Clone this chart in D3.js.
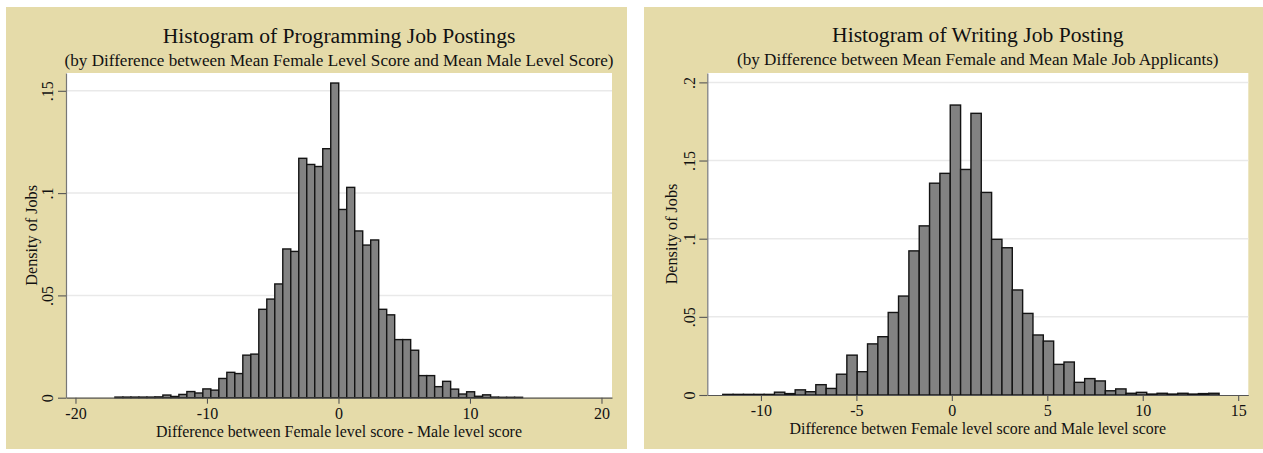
<!DOCTYPE html>
<html>
<head>
<meta charset="utf-8">
<script src="https://cdn.jsdelivr.net/npm/d3@7/dist/d3.min.js"></script>
<style>
  html, body { margin: 0; padding: 0; background: #ffffff; }
  svg { display: block; }
  text { font-family: "Liberation Serif", "Times New Roman", serif; fill: #111; }
</style>
</head>
<body>
<svg id="chart" width="1263" height="453"></svg>
<script>
// ---------------- DATA ----------------
// Programming job postings: 51 equal-width bins from -17 to 14
const progTitle = "Histogram of Programming Job Postings";
const progSubtitle = "(by Difference between Mean Female Level Score and Mean Male Level Score)";
const progXLabel = "Difference between Female level score - Male level score";
const progYLabel = "Density of Jobs";
const progBinStart = -17;
const progBinEnd = 14;
const progDensity = [
  0.0003, 0.0003, 0.0003, 0.0003, 0.0003, 0.0004, 0.0013, 0.0006, 0.0016, 0.0030,
  0.0023, 0.0043, 0.0037, 0.0094, 0.0124, 0.0118, 0.0208, 0.0213, 0.0432, 0.0482,
  0.0556, 0.0727, 0.0715, 0.1170, 0.1140, 0.1130, 0.1217, 0.1538, 0.0920, 0.1028,
  0.0815, 0.0746, 0.0771, 0.0432, 0.0405, 0.0284, 0.0284, 0.0232, 0.0108, 0.0108,
  0.0054, 0.0080, 0.0042, 0.0018, 0.0029, 0.0007, 0.0014, 0.0003, 0.0002, 0.0002,
  0.0002
];
const progXTicks = [-20, -10, 0, 10, 20];
const progYTicks = [0, 0.05, 0.1, 0.15];
const progXDomain = [-20.72, 20.8];
const progYDomain = [0, 0.1587];

// Writing job postings: 48 equal-width bins from -12 to 14
const writTitle = "Histogram of Writing Job Posting";
const writSubtitle = "(by Difference between Mean Female and Mean Male Job Applicants)";
const writXLabel = "Difference betwen Female level score and Male level score";
const writYLabel = "Density of Jobs";
const writBinStart = -12;
const writBinEnd = 14;
const writDensity = [
  0.0004, 0.0004, 0.0004, 0.0004, 0.0004, 0.0018, 0.0009, 0.0033, 0.0021, 0.0066,
  0.0042, 0.0133, 0.0255, 0.0149, 0.0327, 0.0373, 0.0528, 0.0633, 0.0922, 0.1082,
  0.1355, 0.1418, 0.1855, 0.1443, 0.1802, 0.1296, 0.0996, 0.0942, 0.0672, 0.0522,
  0.0384, 0.0345, 0.0196, 0.0211, 0.0081, 0.0105, 0.0090, 0.0027, 0.0039, 0.0011,
  0.0017, 0.0006, 0.0011, 0.0006, 0.0011, 0.0006, 0.0009, 0.0011
];
const writXTicks = [-10, -5, 0, 5, 10, 15];
const writYTicks = [0, 0.05, 0.1, 0.15, 0.2];
const writXDomain = [-12.81, 15.53];
const writYDomain = [0, 0.206];

// ---------------- DRAWING ----------------
const svg = d3.select("#chart");
const stataNum = v => v === 0 ? "0" : String(v).replace(/^0(?=\.)/, "").replace(/^-0(?=\.)/, "-");

function drawPanel(cfg) {
  const { panel, plot } = cfg;
  const g = svg.append("g");

  // panel background
  g.append("rect")
    .attr("x", panel.x).attr("y", panel.y)
    .attr("width", panel.w).attr("height", panel.h)
    .attr("fill", "#e5dba9");

  // plot region
  g.append("rect")
    .attr("x", plot.x0).attr("y", plot.y0)
    .attr("width", plot.x1 - plot.x0).attr("height", plot.y1 - plot.y0)
    .attr("fill", "#ffffff");

  const x = d3.scaleLinear().domain(cfg.xDomain).range([plot.x0, plot.x1]);
  const y = d3.scaleLinear().domain(cfg.yDomain).range([plot.y1, plot.y0]);

  // gridlines
  g.append("g").selectAll("line")
    .data(cfg.yTicks.filter(d => d !== 0))
    .join("line")
    .attr("x1", plot.x0).attr("x2", plot.x1)
    .attr("y1", d => y(d)).attr("y2", d => y(d))
    .attr("stroke", "#e9e9e9").attr("stroke-width", 1.5);

  // bars
  const n = cfg.values.length;
  const w = (cfg.binEnd - cfg.binStart) / n;
  g.append("g").selectAll("rect")
    .data(cfg.values)
    .join("rect")
    .attr("x", (d, i) => x(cfg.binStart + i * w))
    .attr("width", (d, i) => x(cfg.binStart + (i + 1) * w) - x(cfg.binStart + i * w))
    .attr("y", d => y(d))
    .attr("height", d => y(0) - y(d))
    .attr("fill", "#828282")
    .attr("stroke", "#141414")
    .attr("stroke-width", 1.4);

  // x axis
  const xAxis = g.append("g")
    .attr("transform", `translate(0,${plot.y1})`)
    .call(d3.axisBottom(x).tickValues(cfg.xTicks).tickSize(6).tickSizeOuter(0).tickFormat(d3.format("d")));
  xAxis.select(".domain").attr("stroke", "#555").attr("stroke-width", 1.2);
  xAxis.selectAll(".tick line").attr("stroke", "#555").attr("stroke-width", 1.1);
  xAxis.selectAll(".tick text")
    .attr("y", 10).attr("dy", "0.71em")
    .style("font-family", '"Liberation Serif", serif')
    .style("font-size", "16px").attr("fill", "#111")
    .text(d => String(d).replace("\u2212", "-"));

  // y axis
  const yAxis = g.append("g")
    .attr("transform", `translate(${plot.x0},0)`)
    .call(d3.axisLeft(y).tickValues(cfg.yTicks).tickSize(8).tickSizeOuter(0).tickFormat(stataNum));
  yAxis.select(".domain").attr("stroke", "#777").attr("stroke-width", 1.2);
  yAxis.selectAll(".tick line").attr("stroke", "#555").attr("stroke-width", 1.1);
  yAxis.selectAll(".tick text")
    .attr("transform", "rotate(-90)")
    .attr("x", 0).attr("y", -cfg.yLabelOff).attr("dy", "0.35em")
    .attr("text-anchor", "middle")
    .style("font-family", '"Liberation Serif", serif')
    .style("font-size", "16px").attr("fill", "#111");

  const cx = (plot.x0 + plot.x1) / 2;
  const cy = (plot.y0 + plot.y1) / 2;

  // titles
  g.append("text").attr("x", cx).attr("y", cfg.titleY)
    .attr("text-anchor", "middle").style("font-size", "21.6px").text(cfg.title);
  g.append("text").attr("x", cx).attr("y", cfg.subtitleY)
    .attr("text-anchor", "middle").style("font-size", "17.1px").text(cfg.subtitle);

  // axis titles
  g.append("text").attr("x", cx).attr("y", cfg.xTitleY)
    .attr("text-anchor", "middle").style("font-size", "15.9px").text(cfg.xLabel);
  g.append("text")
    .attr("transform", `translate(${cfg.yTitleX},${cy}) rotate(-90)`)
    .attr("text-anchor", "middle").style("font-size", "16.2px").text(cfg.yLabel);
}

drawPanel({
  panel: { x: 6, y: 7, w: 621, h: 442 },
  plot: { x0: 66, x1: 612, y0: 73, y1: 397.7 },
  xDomain: progXDomain, yDomain: progYDomain,
  xTicks: progXTicks, yTicks: progYTicks,
  values: progDensity, binStart: progBinStart, binEnd: progBinEnd,
  title: progTitle, subtitle: progSubtitle, xLabel: progXLabel, yLabel: progYLabel,
  titleY: 43, subtitleY: 66, xTitleY: 437, yTitleX: 37, yLabelOff: 18.5
});

drawPanel({
  panel: { x: 644, y: 7, w: 619, h: 442 },
  plot: { x0: 707.3, x1: 1248.3, y0: 73, y1: 395 },
  xDomain: writXDomain, yDomain: writYDomain,
  xTicks: writXTicks, yTicks: writYTicks,
  values: writDensity, binStart: writBinStart, binEnd: writBinEnd,
  title: writTitle, subtitle: writSubtitle, xLabel: writXLabel, yLabel: writYLabel,
  titleY: 42, subtitleY: 65, xTitleY: 433.5, yTitleX: 677, yLabelOff: 18
});
</script>
</body>
</html>
